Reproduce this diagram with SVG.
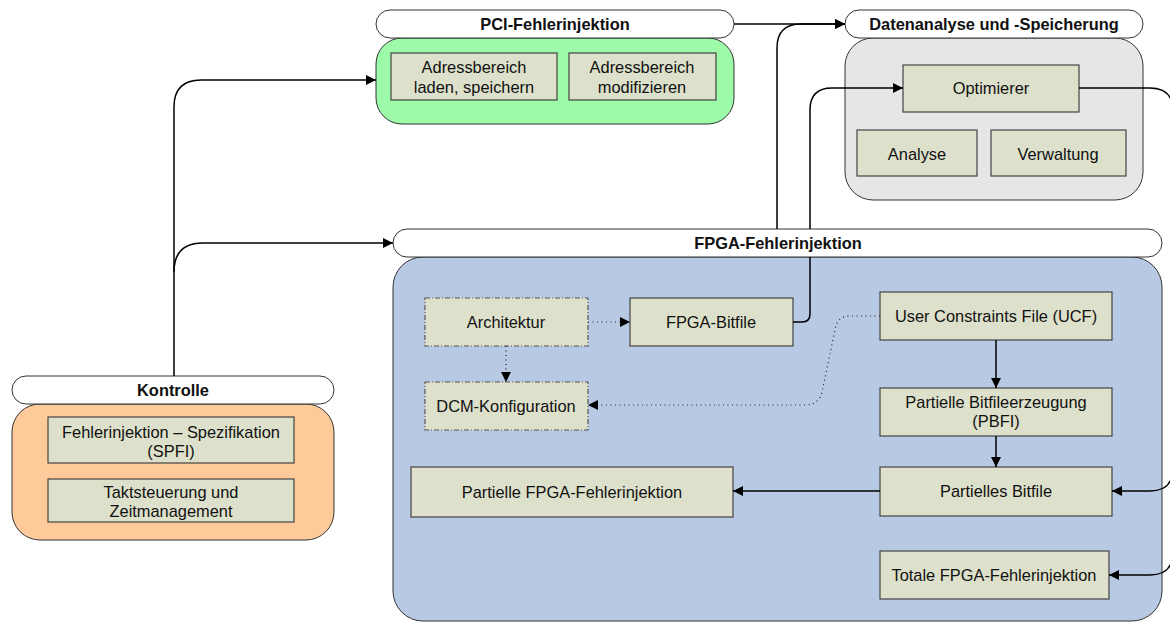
<svg xmlns="http://www.w3.org/2000/svg" width="1170" height="622" viewBox="0 0 1170 622">
  <defs>
    <style>
      .pill{fill:#ffffff;stroke:#333333;stroke-width:1}
      .body{stroke:#333333;stroke-width:1}
      .box{fill:#dde0cb;stroke:#444444;stroke-width:1.2}
      .dash{stroke-dasharray:5 2 1 2;stroke:#555555}
      .t{font-family:"Liberation Sans",Arial,sans-serif;font-size:16.4px;fill:#111111;text-anchor:middle;dominant-baseline:central}
      .h{font-weight:bold}
      .c{fill:none;stroke:#000000;stroke-width:1.5}
      .dot{fill:none;stroke:#222222;stroke-width:1.2;stroke-dasharray:1 3.5}
    </style>
    <marker id="ah" viewBox="0 0 10 10" refX="10" refY="5" markerWidth="11" markerHeight="10" markerUnits="userSpaceOnUse" orient="auto">
      <path d="M0,0 L10,5 L0,10 z" fill="#000000"/>
    </marker>
  </defs>

  <!-- PCI fault injection -->
  <g id="pci">
    <rect class="body" x="376" y="38" width="358" height="86" rx="26" fill="#9dfaa8"/>
    <rect class="pill" x="376" y="10" width="358" height="28" rx="14"/>
    <text class="t h" x="555" y="24">PCI-Fehlerinjektion</text>
    <rect class="box" x="391" y="53" width="166" height="47"/>
    <text class="t" x="474" y="67">Adressbereich</text>
    <text class="t" x="474" y="87">laden, speichern</text>
    <rect class="box" x="569" y="53" width="147" height="47"/>
    <text class="t" x="642" y="67">Adressbereich</text>
    <text class="t" x="642" y="87">modifizieren</text>
  </g>

  <!-- Data analysis and storage -->
  <g id="daten">
    <rect class="body" x="845" y="38" width="298" height="162" rx="28" fill="#e6e6e6"/>
    <rect class="pill" x="845" y="10" width="298" height="28" rx="14"/>
    <text class="t h" x="994" y="24">Datenanalyse und -Speicherung</text>
    <rect class="box" x="903" y="65" width="176" height="47"/>
    <text class="t" x="991" y="88">Optimierer</text>
    <rect class="box" x="857" y="130" width="120" height="46"/>
    <text class="t" x="917" y="154">Analyse</text>
    <rect class="box" x="991" y="130" width="135" height="46"/>
    <text class="t" x="1058" y="154">Verwaltung</text>
  </g>

  <!-- FPGA fault injection -->
  <g id="fpga">
    <rect class="body" x="393" y="257" width="769" height="364" rx="30" fill="#b8c9e3"/>
    <rect class="pill" x="393" y="229" width="769" height="28" rx="14"/>
    <text class="t h" x="778" y="243">FPGA-Fehlerinjektion</text>
  </g>
  <g id="architektur">
    <rect class="box dash" x="425" y="298" width="163" height="48"/>
    <text class="t" x="506" y="322">Architektur</text>
  </g>
  <g id="bitfile">
    <rect class="box" x="630" y="298" width="163" height="48"/>
    <text class="t" x="711" y="322">FPGA-Bitfile</text>
  </g>
  <g id="ucf">
    <rect class="box" x="880" y="292" width="232" height="48"/>
    <text class="t" x="996" y="316">User Constraints File (UCF)</text>
  </g>
  <g id="dcm">
    <rect class="box dash" x="425" y="382" width="163" height="48"/>
    <text class="t" x="506" y="406">DCM-Konfiguration</text>
  </g>
  <g id="pbfi">
    <rect class="box" x="880" y="388" width="232" height="48"/>
    <text class="t" x="996" y="402">Partielle Bitfileerzeugung</text>
    <text class="t" x="996" y="421">(PBFI)</text>
  </g>
  <g id="partielle-injektion">
    <rect class="box" x="411" y="467" width="322" height="50"/>
    <text class="t" x="572" y="492">Partielle FPGA-Fehlerinjektion</text>
  </g>
  <g id="partielles-bitfile">
    <rect class="box" x="880" y="467" width="232" height="49"/>
    <text class="t" x="996" y="491">Partielles Bitfile</text>
  </g>
  <g id="totale-injektion">
    <rect class="box" x="880" y="551" width="229" height="48"/>
    <text class="t" x="994" y="575">Totale FPGA-Fehlerinjektion</text>
  </g>

  <!-- Control -->
  <g id="kontrolle">
    <rect class="body" x="12" y="404" width="322" height="136" rx="28" fill="#ffca99"/>
    <rect class="pill" x="12" y="376" width="322" height="28" rx="14"/>
    <text class="t h" x="173" y="390">Kontrolle</text>
    <rect class="box" x="48" y="417" width="246" height="46"/>
    <text class="t" x="171" y="432">Fehlerinjektion – Spezifikation</text>
    <text class="t" x="171" y="451">(SPFI)</text>
    <rect class="box" x="48" y="479" width="246" height="43"/>
    <text class="t" x="171" y="492">Taktsteuerung und</text>
    <text class="t" x="171" y="511">Zeitmanagement</text>
  </g>

  <!-- Connectors -->
  <g id="connectors">
    <path class="c" d="M174,376 V107 Q174,80 201,80 H376" marker-end="url(#ah)"/>
    <path class="c" d="M174,272 Q174,243 203,243 H393" marker-end="url(#ah)"/>
    <path class="c" d="M734,24 H845" marker-end="url(#ah)"/>
    <path class="c" d="M777,229 V48 Q777,24 801,24 H845" marker-end="url(#ah)"/>
    <path class="c" d="M793,322 H802 Q810,322 810,314 V257"/>
    <path class="c" d="M810,229 V110 Q810,88 832,88 H903" marker-end="url(#ah)"/>
    <path class="c" d="M1079,88 H1150 Q1173,88 1173,111 V468 Q1173,491 1150,491 H1112" marker-end="url(#ah)"/>
    <path class="c" d="M1173,480 V552 Q1173,575 1150,575 H1109" marker-end="url(#ah)"/>
    <path class="c" d="M996,340 V388" marker-end="url(#ah)"/>
    <path class="c" d="M996,436 V467" marker-end="url(#ah)"/>
    <path class="c" d="M880,491 H733" marker-end="url(#ah)"/>
    <path class="dot" d="M588,322 H620"/>
    <path d="M620,317 L630,322 L620,327 z" fill="#000000"/>
    <path class="dot" d="M506,346 V372"/>
    <path d="M501,372 L506,382 L511,372 z" fill="#000000"/>
    <path class="dot" d="M880,316 H850 Q837,316 835,330 L822,392 Q819,405 805,405 H598"/>
    <path d="M598,400 L588,405 L598,410 z" fill="#000000"/>
  </g>
</svg>
